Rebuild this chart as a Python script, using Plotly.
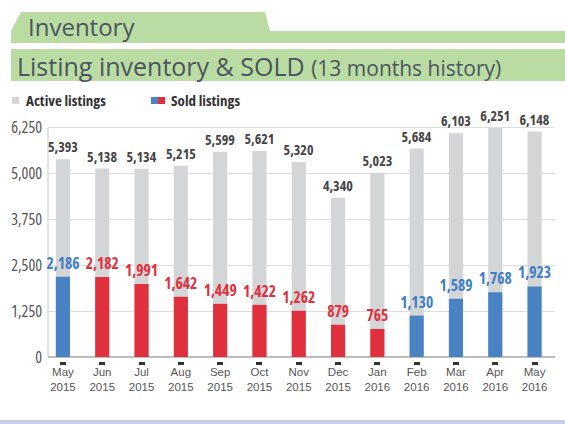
import plotly.graph_objects as go

months = ["May", "Jun", "Jul", "Aug", "Sep", "Oct", "Nov", "Dec", "Jan", "Feb", "Mar", "Apr", "May"]
years = ["2015", "2015", "2015", "2015", "2015", "2015", "2015", "2015", "2016", "2016", "2016", "2016", "2016"]
active_listings = [5393, 5138, 5134, 5215, 5599, 5621, 5320, 4340, 5023, 5684, 6103, 6251, 6148]
sold_listings = [2186, 2182, 1991, 1642, 1449, 1422, 1262, 879, 765, 1130, 1589, 1768, 1923]
sold_is_blue = [True, False, False, False, False, False, False, False, False, True, True, True, True]
y_ticks = [0, 1250, 2500, 3750, 5000, 6250]

categories = [f"{m} {y}" for m, y in zip(months, years)]
tick_labels = [f"{m}<br>{y}" for m, y in zip(months, years)]


def cond(s, stretch="condensed", extra=""):
    return f"<span style='font-stretch:{stretch};{extra}'>{s}</span>"


BLUE_BAR = "#4a83c4"
RED_BAR = "#e0303e"
BLUE_TXT = "#3f7ec4"
RED_TXT = "#e0303e"
GRAY_BAR = "#d4d5d7"
GREEN = "#badca2"
TITLE_COL = "#4b5560"

FONT = "Open Sans"

W, H = 565, 424
Y_TOP = 6300
PX_PER_UNIT = 229 / 6250
ML, MR, MB = 48, 10, 63
MT = round(128 - (Y_TOP - 6250) * PX_PER_UNIT)
PW, PH = W - ML - MR, H - MT - MB


def px(x):
    return (x - ML) / PW


def py(y):
    return (H - MB - y) / PH


fig = go.Figure()
fig.add_trace(go.Bar(
    x=categories, y=active_listings, width=0.36, marker_color=GRAY_BAR,
    marker_line_width=0, texttemplate=cond("%{y:,}"), textposition="outside",
    textfont=dict(family=FONT, size=14, color="#454545", weight="bold"),
    constraintext="none", cliponaxis=False, showlegend=False, name="Active listings"))
fig.add_trace(go.Bar(
    x=categories, y=sold_listings, width=0.36,
    marker_color=[BLUE_BAR if b else RED_BAR for b in sold_is_blue],
    marker_line_width=0, texttemplate=cond("%{y:,}"), textposition="outside",
    textfont=dict(family=FONT, size=15.5, weight="bold",
                  color=[BLUE_TXT if b else RED_TXT for b in sold_is_blue]),
    constraintext="none", cliponaxis=False, showlegend=False, name="Sold listings"))

shapes = []
shapes.append(dict(type="path", xref="paper", yref="paper",
                   path=f"M {px(11)},{py(43)} L {px(11)},{py(31)} L {px(21)},{py(12)} L {px(265)},{py(12)} "
                        f"L {px(270)},{py(31)} L {px(565)},{py(31)} L {px(565)},{py(43)} Z",
                   fillcolor=GREEN, line_width=0, layer="below"))
shapes.append(dict(type="rect", xref="paper", yref="paper", x0=px(11), x1=px(565), y0=py(81), y1=py(49),
                   fillcolor=GREEN, line_width=0, layer="below"))
shapes.append(dict(type="rect", xref="paper", yref="paper", x0=px(0), x1=px(565), y0=py(424), y1=py(420),
                   fillcolor="#c7cfea", line_width=0, layer="below"))
shapes.append(dict(type="rect", xref="paper", yref="paper", x0=px(12), x1=px(19), y0=py(104), y1=py(97),
                   fillcolor=GRAY_BAR, line_width=0))
shapes.append(dict(type="rect", xref="paper", yref="paper", x0=px(151), x1=px(158), y0=py(104), y1=py(97),
                   fillcolor=BLUE_BAR, line_width=0))
shapes.append(dict(type="rect", xref="paper", yref="paper", x0=px(158), x1=px(165), y0=py(104), y1=py(97),
                   fillcolor=RED_BAR, line_width=0))
shapes.append(dict(type="line", xref="paper", yref="y", x0=0, x1=0, y0=0, y1=y_ticks[-1],
                   line=dict(color="#c8c8c8", width=1), layer="below"))

annotations = [
    dict(text="Inventory", xref="paper", yref="paper",
         x=px(26), y=py(27), xanchor="left", yanchor="middle", showarrow=False,
         font=dict(family=FONT, size=24, color=TITLE_COL)),
    dict(text="Listing inventory &amp; SOLD <span style='font-size:21px'>(13 months history)</span>",
         xref="paper", yref="paper", x=px(15), y=py(66), xanchor="left", yanchor="middle",
         showarrow=False, font=dict(family=FONT, size=25, color=TITLE_COL)),
    dict(text=cond("<b>Active listings</b>"), xref="paper", yref="paper", x=px(24), y=py(100.5),
         xanchor="left", yanchor="middle", showarrow=False,
         font=dict(family=FONT, size=15, color="#333333")),
    dict(text=cond("<b>Sold listings</b>"), xref="paper", yref="paper", x=px(169), y=py(100.5),
         xanchor="left", yanchor="middle", showarrow=False,
         font=dict(family=FONT, size=15, color="#333333")),
]

fig.update_layout(
    width=W, height=H, autosize=False,
    margin=dict(l=ML, r=MR, t=MT, b=MB, pad=0),
    paper_bgcolor="white", plot_bgcolor="white",
    barmode="overlay", showlegend=False,
    shapes=shapes, annotations=annotations,
    xaxis=dict(type="category", range=[-0.38, 12.52], tickvals=categories, ticktext=tick_labels,
               showline=False, showgrid=False, ticks="outside", ticklen=3, tickwidth=6,
               tickcolor="#333333", ticklabelstandoff=-3,
               tickfont=dict(family="Liberation Sans, Arial", size=11.5, color="#555555")),
    yaxis=dict(range=[-109, Y_TOP], tickvals=y_ticks,
               ticktext=[cond(f"{v:,}", "extra-condensed") for v in y_ticks],
               showgrid=True, gridcolor="#dddddd", ticklabelstandoff=5,
               gridwidth=1, zeroline=True, zerolinecolor="#bdbdbd", zerolinewidth=1.5, showline=False,
               ticks="", tickfont=dict(family=FONT, size=16, color="#555555")),
)

fig.write_html("out.html", post_script="document.body.style.margin='0';",
               config={"displayModeBar": False})
